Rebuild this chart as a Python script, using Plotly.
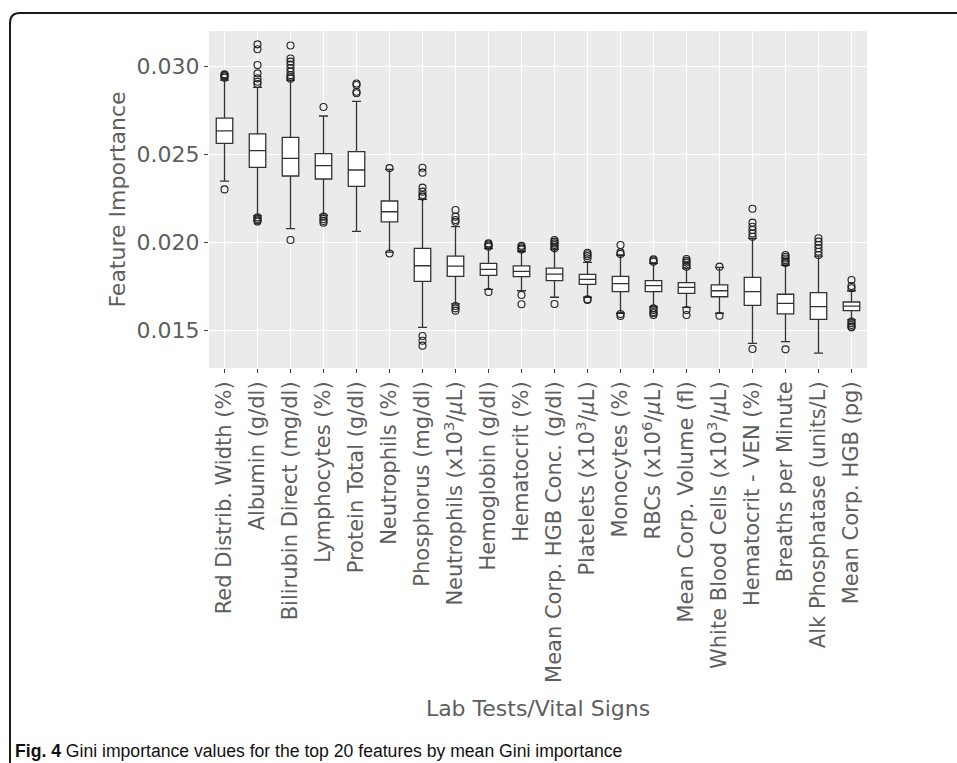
import plotly.graph_objects as go

# Top 20 features (ordered by mean Gini importance)
features = [
    "Red Distrib. Width (%)",
    "Albumin (g/dl)",
    "Bilirubin Direct (mg/dl)",
    "Lymphocytes (%)",
    "Protein Total (g/dl)",
    "Neutrophils (%)",
    "Phosphorus (mg/dl)",
    "Neutrophils (x10<sup>3</sup>/<i>μ</i>L)",
    "Hemoglobin (g/dl)",
    "Hematocrit (%)",
    "Mean Corp. HGB Conc. (g/dl)",
    "Platelets (x10<sup>3</sup>/<i>μ</i>L)",
    "Monocytes (%)",
    "RBCs (x10<sup>6</sup>/<i>μ</i>L)",
    "Mean Corp. Volume (fl)",
    "White Blood Cells (x10<sup>3</sup>/<i>μ</i>L)",
    "Hematocrit - VEN (%)",
    "Breaths per Minute",
    "Alk Phosphatase (units/L)",
    "Mean Corp. HGB (pg)",
]

# Box summary statistics per feature
whisker_low = [0.02348, 0.02150, 0.02078, 0.02155, 0.02062, 0.01945, 0.01517, 0.01650, 0.01733, 0.01725,
               0.01688, 0.01688, 0.01597, 0.01634, 0.01631, 0.01597, 0.01426, 0.01436, 0.01370, 0.01559]
q1 = [0.02562, 0.02426, 0.02377, 0.02360, 0.02318, 0.02116, 0.01778, 0.01807, 0.01812, 0.01805,
      0.01782, 0.01761, 0.01720, 0.01720, 0.01710, 0.01691, 0.01642, 0.01593, 0.01562, 0.01612]
median = [0.02634, 0.02521, 0.02477, 0.02436, 0.02411, 0.02174, 0.01867, 0.01865, 0.01847, 0.01835,
          0.01820, 0.01790, 0.01765, 0.01754, 0.01744, 0.01725, 0.01720, 0.01653, 0.01635, 0.01638]
q3 = [0.02706, 0.02616, 0.02597, 0.02504, 0.02515, 0.02235, 0.01966, 0.01922, 0.01881, 0.01866,
      0.01854, 0.01818, 0.01807, 0.01782, 0.01771, 0.01758, 0.01801, 0.01705, 0.01714, 0.01661]
whisker_high = [0.02922, 0.02881, 0.02922, 0.02718, 0.02801, 0.02415, 0.02244, 0.02089, 0.01966, 0.01947,
                0.01960, 0.01886, 0.01928, 0.01881, 0.01853, 0.01858, 0.02023, 0.01870, 0.01922, 0.01725]

# Outlying values per feature
outliers = [
    [0.02955, 0.02950, 0.02943, 0.02935, 0.02301],
    [0.03125, 0.03097, 0.03008, 0.02960, 0.02932, 0.02913, 0.02900, 0.02142, 0.02133, 0.02125, 0.02118],
    [0.03119, 0.03045, 0.03027, 0.03010, 0.02990, 0.02970, 0.02950, 0.02940, 0.02930, 0.02013],
    [0.02769, 0.02146, 0.02133, 0.02122, 0.02112],
    [0.02903, 0.02894, 0.02856, 0.02847],
    [0.02422, 0.01937],
    [0.02424, 0.02396, 0.02311, 0.02288, 0.02269, 0.02260, 0.01468, 0.01441, 0.01413],
    [0.02184, 0.02146, 0.02127, 0.02117, 0.01638, 0.01625, 0.01612],
    [0.01994, 0.01988, 0.01982, 0.01975, 0.01718],
    [0.01980, 0.01972, 0.01965, 0.01960, 0.01701, 0.01648],
    [0.02013, 0.02004, 0.01994, 0.01985, 0.01975, 0.01966, 0.01650],
    [0.01941, 0.01932, 0.01922, 0.01910, 0.01676, 0.01672],
    [0.01985, 0.01943, 0.01934, 0.01593, 0.01582],
    [0.01903, 0.01897, 0.01890, 0.01625, 0.01616, 0.01604, 0.01597, 0.01587],
    [0.01905, 0.01895, 0.01885, 0.01873, 0.01862, 0.01616, 0.01587],
    [0.01862, 0.01583],
    [0.02191, 0.02112, 0.02089, 0.02070, 0.02051, 0.02032, 0.01394],
    [0.01928, 0.01918, 0.01908, 0.01898, 0.01890, 0.01883, 0.01392],
    [0.02023, 0.02004, 0.01985, 0.01966, 0.01947, 0.01928],
    [0.01786, 0.01752, 0.01739, 0.01550, 0.01540, 0.01530, 0.01521, 0.01517],
]

y_ticks = [0.015, 0.020, 0.025, 0.030]

W, H = 957, 763
ML, MR, MT, MB = 209, 90, 31, 395
PW, PH = W - ML - MR, H - MT - MB

TEXT_GREY = "#5e5e5e"
FONT = "DejaVu Sans"

fig = go.Figure()

fig.add_trace(go.Box(
    x=features,
    q1=q1, median=median, q3=q3,
    lowerfence=whisker_low, upperfence=whisker_high,
    boxpoints=False,
    width=0.5,
    whiskerwidth=0.55,
    fillcolor="white",
    line=dict(color="#333333", width=1.3),
    showlegend=False,
    hoverinfo="skip",
))

out_x, out_y = [], []
for name, vals in zip(features, outliers):
    out_x.extend([name] * len(vals))
    out_y.extend(vals)

fig.add_trace(go.Scatter(
    x=out_x, y=out_y, mode="markers",
    marker=dict(symbol="circle-open", size=7, color="#222222", line=dict(width=1.1, color="#222222")),
    showlegend=False, hoverinfo="skip",
))


def px_x(p):
    return (p - ML) / PW


def px_y(p):
    return (H - MB - p) / PH


# Rounded frame around the figure panel
r = 10
frame = (f"M {px_x(10)},{px_y(775)} L {px_x(10)},{px_y(13 + r)} "
         f"Q {px_x(10)},{px_y(13)} {px_x(10 + r)},{px_y(13)} L {px_x(975)},{px_y(13)}")

fig.update_layout(
    width=W, height=H,
    margin=dict(l=ML, r=MR, t=MT, b=MB, autoexpand=False),
    paper_bgcolor="white",
    plot_bgcolor="#EBEBEB",
    font=dict(family=FONT, color=TEXT_GREY),
    xaxis=dict(
        type="category",
        range=[-0.47, 19.47],
        tickangle=-90,
        tickfont=dict(size=21, color=TEXT_GREY),
        ticks="outside", ticklen=4, tickwidth=1, tickcolor="#444444",
        showgrid=True, gridcolor="white", gridwidth=1.2,
        showline=False, zeroline=False,
        automargin=False,
        title=dict(text="Lab Tests/Vital Signs", font=dict(size=22, color=TEXT_GREY), standoff=18),
    ),
    yaxis=dict(
        range=[0.01286, 0.03201],
        tickvals=y_ticks,
        ticktext=[f"{v:.3f}" for v in y_ticks],
        tickfont=dict(size=22, color=TEXT_GREY),
        ticks="outside", ticklen=4, tickwidth=1, tickcolor="#444444",
        showgrid=True, gridcolor="white", gridwidth=1.2,
        showline=False, zeroline=False,
        automargin=False,
        title=dict(text="Feature Importance", font=dict(size=22, color=TEXT_GREY), standoff=4),
    ),
    shapes=[dict(type="path", xref="paper", yref="paper", path=frame,
                 line=dict(color="#1a1a1a", width=2), layer="above")],
    annotations=[dict(
        xref="paper", yref="paper", x=px_x(13), y=px_y(751),
        xanchor="left", yanchor="middle", showarrow=False,
        text="<b>Fig. 4</b> Gini importance values for the top 20 features by mean Gini importance",
        font=dict(family="Liberation Sans", size=17.6, color="#111111"),
    )],
)

fig.write_html("out.html")
